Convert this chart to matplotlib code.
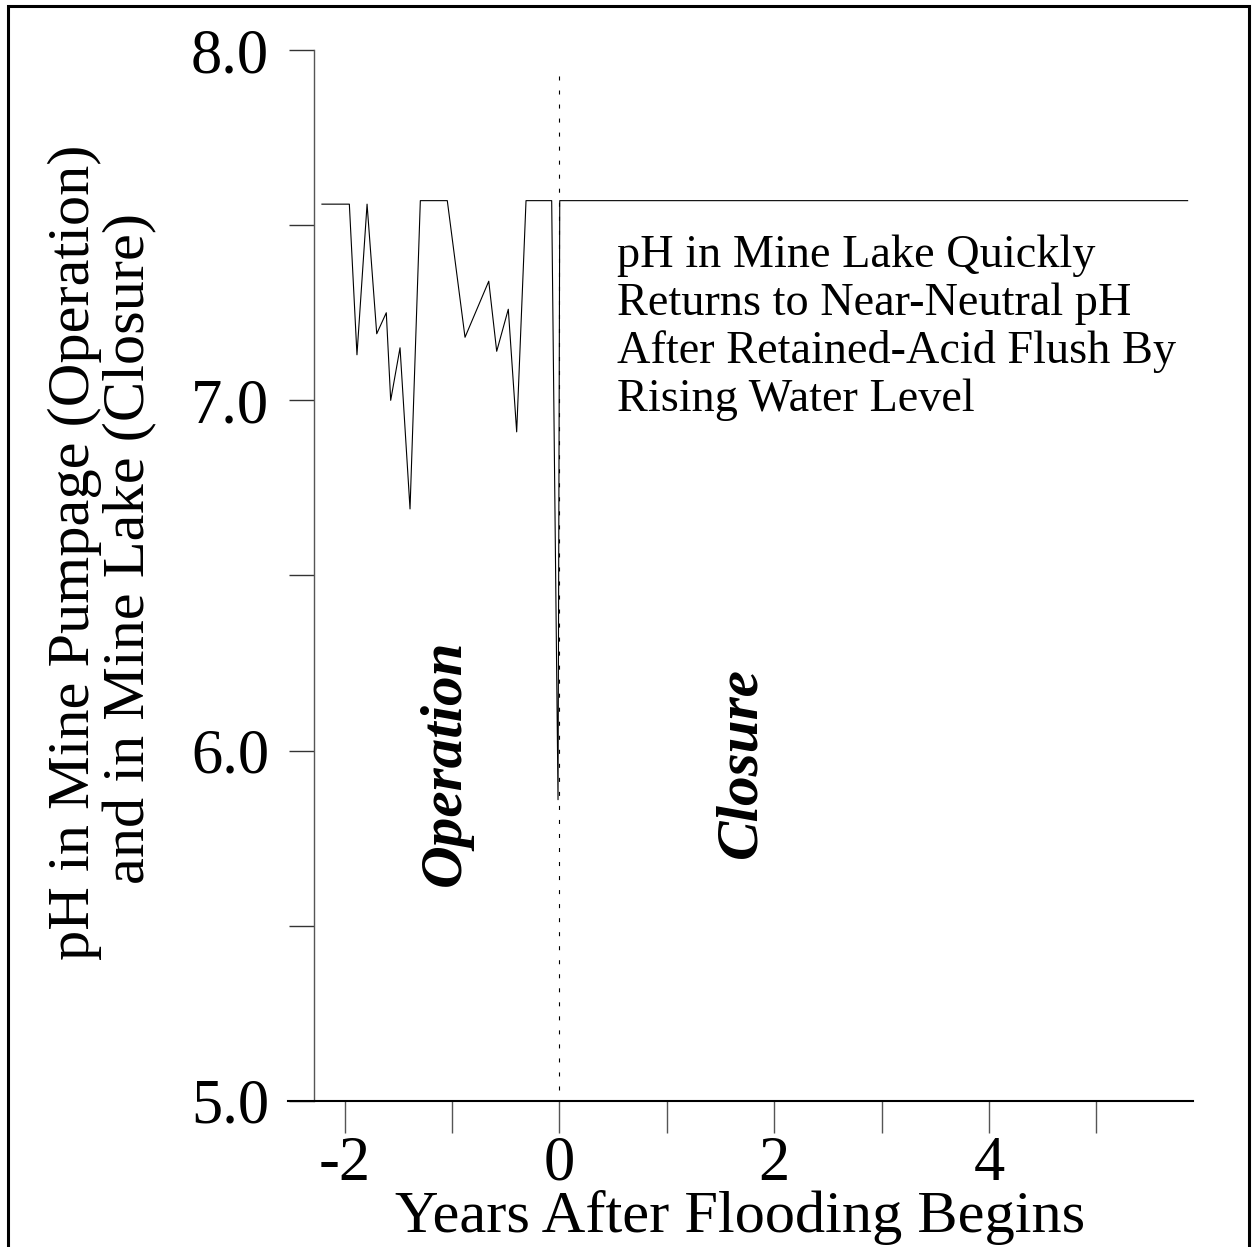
import matplotlib
matplotlib.use("Agg")
import matplotlib.pyplot as plt
from matplotlib.patches import Rectangle

plt.rcParams['font.family'] = ['Liberation Serif', 'DejaVu Serif']
plt.rcParams['lines.scale_dashes'] = False

# Data (years after flooding begins, pH)
years = [-2.21, -1.955, -1.884, -1.790, -1.700, -1.611, -1.570, -1.483, -1.390,
         -1.294, -1.043, -0.878, -0.657, -0.583, -0.475, -0.397, -0.310, -0.071,
         -0.012, 0.004, 5.85]
ph = [7.56, 7.56, 7.13, 7.56, 7.19, 7.25, 7.00, 7.15, 6.69,
      7.57, 7.57, 7.18, 7.34, 7.14, 7.26, 6.91, 7.57, 7.57,
      5.86, 7.57, 7.57]

xticks = [-2, -1, 0, 1, 2, 3, 4, 5]
xticklabels = ['-2', '', '0', '', '2', '', '4', '']
yticks = [5.0, 5.5, 6.0, 6.5, 7.0, 7.5, 8.0]
yticklabels = ['5.0', '', '6.0', '', '7.0', '', '8.0']

annotation = ("pH in Mine Lake Quickly\nReturns to Near-Neutral pH\n"
              "After Retained-Acid Flush By\nRising Water Level")

fig = plt.figure(figsize=(12.52, 12.47), dpi=100)
ax = fig.add_axes([0.2303, 0.1171, 0.7224, 0.8428])

ax.plot(years, ph, color='black', lw=0.8)
ax.plot([0, 0], [5.03, 7.935], color='black', lw=0.8, linestyle=(0, (2.9, 7.2)))

ax.set_xlim(-2.523, 5.898)
ax.set_ylim(5.0, 8.0)

for s in ['top', 'right']:
    ax.spines[s].set_visible(False)
ax.spines['left'].set_position(('data', -2.287))
ax.spines['left'].set_linewidth(1.0)
ax.spines['left'].set_color('#555555')
ax.spines['bottom'].set_linewidth(1.5)

ax.set_xticks(xticks)
ax.set_xticklabels(xticklabels)
ax.set_yticks(yticks)
ax.set_yticklabels(yticklabels)
ax.tick_params(axis='x', direction='out', length=23, width=1.0, color='#555555',
               labelsize=45, pad=2)
ax.tick_params(axis='y', direction='out', length=18, width=1.0, color='#333333',
               labelsize=45, pad=14)

ax.set_xlabel('Years After Flooding Begins', fontsize=43.5, labelpad=-3)

fig.text(0.060, 0.557, 'pH in Mine Pumpage (Operation)', rotation=90,
         fontsize=43.5, ha='center', va='center')
fig.text(0.104, 0.560, 'and in Mine Lake (Closure)', rotation=90,
         fontsize=43.5, ha='center', va='center')

ax.text(0.537, 7.474, annotation, fontsize=33.3, ha='left', va='top', linespacing=1.17)

ax.text(-1.06, 5.965, 'Operation', rotation=90, fontsize=42.6, fontweight='bold',
        fontstyle='italic', ha='center', va='center')
ax.text(1.70, 5.965, 'Closure', rotation=90, fontsize=42.7, fontweight='bold',
        fontstyle='italic', ha='center', va='center')

fig.patches.append(Rectangle((7.5 / 1252, -0.05), (1248.5 - 7.5) / 1252, 1.05 - 6.5 / 1247,
                             transform=fig.transFigure, fill=False, edgecolor='black',
                             lw=2.2, clip_on=False))

fig.savefig('out.png', dpi=100)
